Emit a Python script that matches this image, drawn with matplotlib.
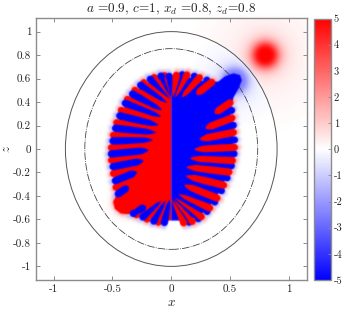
import numpy as np
import matplotlib
matplotlib.use('Agg')
import matplotlib.pyplot as plt
from matplotlib.colors import LinearSegmentedColormap, Normalize
from matplotlib.patches import Ellipse, Circle, Polygon
from matplotlib.collections import PatchCollection
from matplotlib.cm import ScalarMappable

plt.rcParams['mathtext.fontset'] = 'cm'
plt.rcParams['font.family'] = ['cmr10', 'DejaVu Serif']
plt.rcParams['axes.unicode_minus'] = False
plt.rcParams['axes.formatter.use_mathtext'] = True

# dipole position and shells
dipole_x = 0.8
dipole_z = 0.8
glow_radius = [0.62, 0.50, 0.40, 0.32, 0.26, 0.21, 0.175, 0.15, 0.13, 0.115, 0.10, 0.085, 0.072]
glow_value = [0.06, 0.12, 0.2, 0.3, 0.45, 0.7, 1.1, 1.6, 2.2, 2.9, 3.6, 4.4, 5]

# blue haze round the upper blob, red one round the lower blob
haze_blue_x = 0.54
haze_blue_z = 0.58
haze_blue_radius = [0.36, 0.28, 0.22, 0.17, 0.13, 0.105]
haze_blue_value = [-0.08, -0.18, -0.35, -0.7, -1.3, -2.5]
haze_red_x = -0.38
haze_red_z = -0.45
haze_red_radius = [0.17, 0.14, 0.125]
haze_red_value = [0.15, 0.5, 1.5]

# left side: blue fingers in the red part (tip, then root)
blue_tip_x = [-0.02, -0.10, -0.20, -0.286, -0.357, -0.42, -0.468, -0.504, -0.527, -0.54, -0.525, -0.504, -0.476,
              -0.349, -0.264, -0.164, -0.065]
blue_tip_z = [0.65, 0.65, 0.616, 0.56, 0.483, 0.40, 0.29, 0.18, 0.068, -0.045, -0.156, -0.281, -0.40,
              -0.565, -0.60, -0.641, -0.656]
blue_root_x = [-0.002, -0.004, -0.008, -0.037, -0.08, -0.085, -0.108, -0.128, -0.156, -0.193, -0.235, -0.292, -0.363,
               -0.215, -0.085, -0.05, -0.014]
blue_root_z = [0.43, 0.43, 0.423, 0.394, 0.332, 0.275, 0.204, 0.139, 0.077, -0.01, -0.10, -0.196, -0.32,
               -0.486, -0.443, -0.443, -0.434]

# right side: red fingers in the blue part
red_tip_x = [0.048, 0.147, 0.26, 0.368, 0.525, 0.544, 0.558, 0.567, 0.55, 0.52, 0.474, 0.417, 0.354, 0.28, 0.198, 0.119]
red_tip_z = [0.658, 0.658, 0.63, 0.588, 0.41, 0.275, 0.147, 0.015, -0.10, -0.20, -0.315, -0.428, -0.514, -0.594, -0.64, -0.656]
red_root_x = [0.014, 0.034, 0.09, 0.213, 0.368, 0.289, 0.24, 0.196, 0.16, 0.128, 0.125, 0.11, 0.062, 0.028, 0.017, 0.004]
red_root_z = [0.44, 0.437, 0.44, 0.466, 0.304, 0.176, 0.082, -0.003, -0.08, -0.153, -0.23, -0.307, -0.386, -0.415, -0.426, -0.43]

# outlines of the two blobs
blob_right_x = [0.40, 0.459, 0.53, 0.585, 0.60, 0.575, 0.53]
blob_right_z = [0.575, 0.62, 0.645, 0.63, 0.585, 0.52, 0.44]
blob_left_x = [-0.47, -0.495, -0.48, -0.43, -0.38]
blob_left_z = [-0.40, -0.45, -0.51, -0.55, -0.555]

outer_a = 0.9
outer_c = 1.0
inner_a = 0.735
inner_c = 0.855

xticks = [-1, -0.5, 0, 0.5, 1]
xlabels = ['-1', '-0.5', '0', '0.5', '1']
zticks = [-1, -0.8, -0.6, -0.4, -0.2, 0, 0.2, 0.4, 0.6, 0.8, 1]
zlabels = ['-1', '-0.8', '-0.6', '-0.4', '-0.2', '0', '0.2', '0.4', '0.6', '0.8', '1']
cticks = [-5, -4, -3, -2, -1, 0, 1, 2, 3, 4, 5]

W = 346
H = 312
GREY = '#8c8c8c'
TXT = '#222222'
FINGER_W = 0.062
cmap = LinearSegmentedColormap.from_list('bwr2', ['#0000ff', '#ffffff', '#ff0000'])
norm = Normalize(-5, 5)


def blur(sigma):
    # gaussian blur for set_agg_filter, the reference is a soft raster
    pad = int(3 * sigma) + 1
    k = np.exp(-0.5 * (np.arange(-pad, pad + 1) / sigma) ** 2)
    k = k / k.sum()

    def run(im, dpi):
        im = np.pad(im, [(pad, pad), (pad, pad), (0, 0)])
        a = im[:, :, 3:]
        pm = np.concatenate([im[:, :, :3] * a, a], axis=2)
        pm = np.apply_along_axis(lambda v: np.convolve(v, k, mode='same'), 0, pm)
        pm = np.apply_along_axis(lambda v: np.convolve(v, k, mode='same'), 1, pm)
        out = pm.copy()
        al = np.maximum(pm[:, :, 3:], 1e-6)
        out[:, :, :3] = np.clip(pm[:, :, :3] / al, 0, 1)
        return out, -pad, -pad
    return run


def layer(ax, patches, sigma, zo, clip=None):
    col = PatchCollection(patches, match_original=True, zorder=zo)
    ax.add_collection(col)
    if clip is not None:
        col.set_clip_path(clip)
    col.set_agg_filter(blur(sigma))
    col.set_rasterized(True)
    return col


def row_fingers(tx, tz, rx, rz, color):
    # each finger is as wide as the room to its neighbours allows
    tips = np.column_stack([tx, tz])
    roots = np.column_stack([rx, rz])
    t = np.array([0, 0.03, 0.07, 0.13, 0.22, 0.35, 0.5, 0.7, 0.85, 1.0])
    out = []
    for i in range(len(tips)):
        d = tips[i] - roots[i]
        d = d / np.hypot(d[0], d[1])
        n = np.array([-d[1], d[0]])
        tip = tips[i] - d * FINGER_W / 2
        spine = np.array([roots[i] + (tip - roots[i]) * a for a in t])
        half = np.full(len(t), FINGER_W / 2)
        for j in (i - 1, i + 1):
            if 0 <= j < len(tips):
                other = np.array([roots[j] + (tips[j] - roots[j]) * a for a in t])
                half = np.minimum(half, np.hypot(*(spine - other).T) / 3.2)
        half = half * np.minimum(1, t / 0.22) ** 0.6
        half[-1] = FINGER_W / 2
        up = spine + n * half[:, None]
        dn = spine - n * half[:, None]
        out.append(Polygon(np.vstack([up, dn[::-1]]), closed=True, fc=color, ec='none', lw=0))
        out.append(Circle(tip, FINGER_W / 2, fc=color, ec='none', lw=0))
    return out


def scallops(tx, tz, n_before):
    # base tips sit between neighbouring fingers, the blob breaks the row
    mx = [(tx[i] + tx[i + 1]) / 2 for i in range(len(tx) - 1) if i != n_before - 1]
    mz = [(tz[i] + tz[i + 1]) / 2 for i in range(len(tx) - 1) if i != n_before - 1]
    return mx, mz


def shells(x, z, radius, value):
    return [Circle((x, z), r, fc=cmap(norm(v)), ec='none', lw=0) for r, v in zip(radius, value)]


fig = plt.figure(figsize=(W / 100, H / 100), dpi=100)
ax = fig.add_axes([36 / W, 1 - 280 / H, 270.5 / W, 262 / H])
ax.set_xlim(-1.15, 1.15)
ax.set_ylim(-1.116, 1.116)

layer(ax, shells(dipole_x, dipole_z, glow_radius, glow_value), 2.0, 1)
ax.add_patch(Ellipse((0, 0), 2 * outer_a, 2 * outer_c, fc='white', ec='none', zorder=2))

clip = Ellipse((0, 0), 2 * outer_a, 2 * outer_c, transform=ax.transData)
layer(ax, shells(haze_blue_x, haze_blue_z, haze_blue_radius, haze_blue_value), 2.5, 3, clip)
layer(ax, shells(haze_red_x, haze_red_z, haze_red_radius, haze_red_value), 1.5, 3)

ax.add_patch(Ellipse((0, 0), 2 * outer_a, 2 * outer_c, fc='none', ec='#555555', lw=0.7, zorder=4))
ax.add_patch(Ellipse((0, 0), 2 * inner_a, 2 * inner_c, fc='none', ec='#444444', lw=0.6,
                     ls=(0, (9, 1.5, 1, 1.5)), zorder=4))

lx, lz = scallops(blue_tip_x, blue_tip_z, 13)
rx, rz = scallops(red_tip_x, red_tip_z, 4)
# the base stops short of the rim so the rim is a row of tips
inner = 0.94
left_x = [0] + [a * inner for a in lx[:12]] + blob_left_x + [a * inner for a in lx[12:]] + [0]
left_z = [0.61] + [b * inner for b in lz[:12]] + blob_left_z + [b * inner for b in lz[12:]] + [-0.61]
right_x = [0] + [a * inner for a in rx[:3]] + blob_right_x + [a * inner for a in rx[3:]] + [0]
right_z = [0.61] + [b * inner for b in rz[:3]] + blob_right_z + [b * inner for b in rz[3:]] + [-0.61]

# faint fringe outside the tips
fringe = []
for a, b in zip(lx + list(red_tip_x), lz + list(red_tip_z)):
    fringe.append(Circle((a, b), 0.028, fc='#ffb0b0', ec='none', lw=0))
for a, b in zip(rx + list(blue_tip_x), rz + list(blue_tip_z)):
    fringe.append(Circle((a, b), 0.028, fc='#c0c0ff', ec='none', lw=0))
layer(ax, fringe, 1.5, 5)

marks = [Polygon(np.column_stack([left_x, left_z]), closed=True, fc='#ff0000', ec='none', lw=0),
         Polygon(np.column_stack([right_x, right_z]), closed=True, fc='#0000ff', ec='none', lw=0)]
# base tips at the rim, between the fingers
for mx, mz, col in [(lx, lz, '#ff0000'), (rx, rz, '#0000ff')]:
    for a, b in zip(mx, mz):
        m = np.array([a, b])
        c = m * (1 - FINGER_W / 2.4 / np.hypot(a, b))
        marks.append(Circle(c, FINGER_W / 2, fc=col, ec='none', lw=0))
marks += row_fingers(blue_tip_x, blue_tip_z, blue_root_x, blue_root_z, '#0000ff')
marks += row_fingers(red_tip_x, red_tip_z, red_root_x, red_root_z, '#ff0000')
layer(ax, marks, 0.6, 6)

ax.set_xticks(xticks)
ax.set_xticklabels(xlabels)
ax.set_yticks(zticks)
ax.set_yticklabels(zlabels)
ax.tick_params(direction='in', top=True, right=True, length=3, width=0.7, color=GREY,
               labelsize=8, labelcolor=TXT, pad=3.5)
for s in ax.spines.values():
    s.set_color(GREY)
    s.set_linewidth(1.0)
    s.set_zorder(10)
ax.set_xlabel('$x$', fontsize=9.5, color=TXT, labelpad=2)
ax.set_ylabel('$z$', fontsize=9.5, color=TXT)
ax.yaxis.set_label_coords(-0.085, 0.5)
ax.set_title('$a$ =0.9, $c$=1, $x_d$ =0.8, $z_d$=0.8', fontsize=9.5, color=TXT, pad=4)

cax = fig.add_axes([313.5 / W, 1 - 280 / H, 17.5 / W, 261.5 / H])
cb = fig.colorbar(ScalarMappable(norm=norm, cmap=cmap), cax=cax)
cb.set_ticks(cticks)
cb.set_ticklabels([str(c) for c in cticks])
cb.ax.tick_params(direction='in', length=2.5, width=0.6, color=GREY, labelsize=7.5, labelcolor=TXT, pad=2)
cb.outline.set_edgecolor(GREY)
cb.outline.set_linewidth(1.0)

fig.savefig('out.png', dpi=100)
